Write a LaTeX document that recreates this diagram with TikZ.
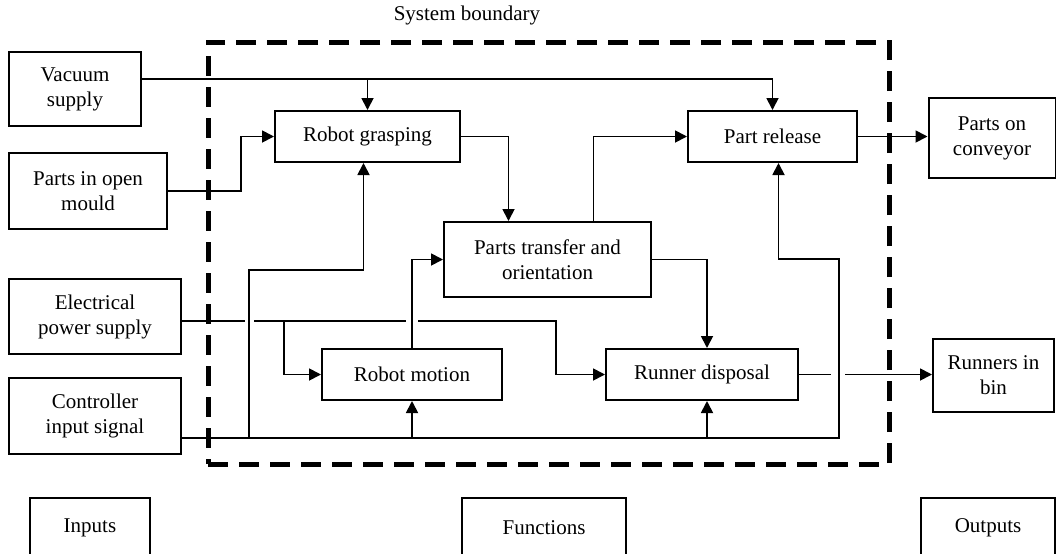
\documentclass[tikz,border=0pt]{standalone}
\usepackage{fontspec}
\setmainfont{Liberation Serif}
\usepackage{tikz}
\usetikzlibrary{arrows.meta,calc}
\newlength\pxl
\setlength\pxl{0.5pt}

\begin{document}
\begin{tikzpicture}[x=1\pxl,y=-1\pxl,font=\fontsize{10.5}{12.5}\selectfont,
  blk/.style n args={2}{draw,line width=1pt,rectangle,align=center,inner sep=0pt,minimum width=#1\pxl,minimum height=#2\pxl},
  bnd/.style={draw,line width=2.5pt,dash pattern=on 10pt off 5.5pt,rectangle,inner sep=0pt},
  ln/.style={line width=0.9pt},
  arr/.style={line width=0.9pt,-{Triangle[length=6pt,width=6pt]}}]
\useasboundingbox (0,0) rectangle (1056,553);
% inputs
\node[blk={132}{74}](vac) at(75,89) {Vacuum\\supply};
\node[blk={158}{76}](mould) at(88,191) {Parts in open\\mould};
\node[blk={172}{75}](power) at(95,316.5) {Electrical\\power supply};
\node[blk={172}{76}](ctrl) at(95,416) {Controller\\input signal};
% functions
\node[blk={185}{51}](grasp) at(367.5,136.5) {Robot grasping};
\node[blk={169}{51}](release) at(772.5,136.5) {Part release};
\node[blk={207}{75}](transfer) at(547.5,259.5) {Parts transfer and\\orientation};
\node[blk={180}{51}](motion) at(412,374.5) {Robot motion};
\node[blk={192}{51}](runner) at(702,374.5) {Runner disposal};
% outputs
\node[blk={127}{80}](conveyor) at(992,138) {Parts on\\conveyor};
\node[blk={121}{73}](bin) at(993.5,375.5) {Runners in\\bin};
% legend row
\node[blk={120}{60}](inputs) at(90,528) {Inputs};
\node[blk={164}{60}](functions) at(544,528) {Functions};
\node[blk={134}{60}](outputs) at(988,528) {Outputs};

\coordinate (v0) at ($(vac.east)+(0,-10)$);
\coordinate (p0) at ($(power.east)+(0,4.5)$);
\coordinate (c0) at ($(ctrl.east)+(0,22)$);
\coordinate (gs) at ($(grasp.south)+(-4,0)$);
\coordinate (rl) at ($(release.south)+(6,0)$);
\coordinate (rn) at ($(runner.north)+(5,0)$);
\coordinate (rs) at ($(runner.south)+(5,0)$);

\draw[arr] (v0) -| (release.north);
\draw[arr] (grasp.north |- v0) -- (grasp.north);
\draw[arr] (mould.east) -- ++(73,0) |- (grasp.west);
\draw[arr] (grasp.east) -| ($(transfer.north)+(-39,0)$);
\draw[arr] ($(transfer.north)+(46,0)$) |- (release.west);
\draw[arr] (transfer.east) -| (rn);
\draw[arr] (motion.north) |- (transfer.west);
\draw[arr] (release.east) -- (release.east -| conveyor.west);
% power line, broken where it crosses
\draw[ln] (p0) -- ++(63,0);
\draw[ln] ($(p0)+(72,0)$) -- ++(152,0);
\draw[arr] ($(p0)+(102,0)$) |- (motion.west);
\draw[arr] ($(p0)+(236,0)$) -- ++(138,0) |- (runner.west);
% controller signal
\draw[arr] (c0) -- ++(657,0) |- ($(rl)+(0,96)$) -- (rl);
\draw[arr] ($(c0)+(67,0)$) |- ($(gs)+(0,107)$) -- (gs);
\draw[arr] (motion.south |- c0) -- (motion.south);
\draw[arr] (rs |- c0) -- (rs);
% runners out
\draw[ln] (runner.east) -- ++(32,0);
\draw[arr] ($(runner.east)+(46,0)$) -- (runner.east -| bin.west);

\node[bnd,minimum width=681\pxl,minimum height=422\pxl](sys) at(548.5,253) {};
\node(syslbl) at(467,15) {System boundary};
\end{tikzpicture}
\end{document}
